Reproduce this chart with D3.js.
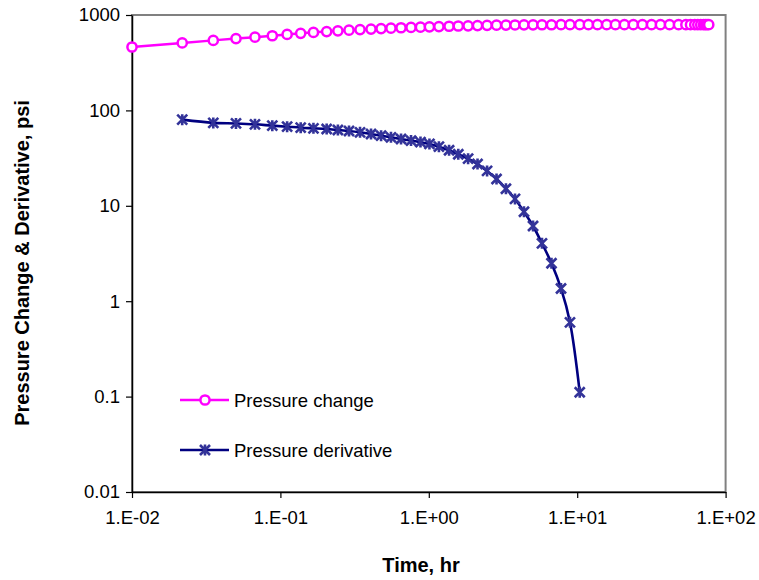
<!DOCTYPE html>
<html>
<head>
<meta charset="utf-8">
<script src="https://cdn.jsdelivr.net/npm/d3@7/dist/d3.min.js"></script>
<style>
  html, body { margin: 0; padding: 0; background: #fff; }
  svg { display: block; font-family: "Liberation Sans", Arial, sans-serif; }
</style>
</head>
<body>
<svg id="chart" width="759" height="580"></svg>
<script>
// ---- Data ----
const changeTime = [0.01, 0.0218, 0.0353, 0.0502, 0.0674, 0.0882, 0.111, 0.137, 0.167, 0.205,
  0.244, 0.290, 0.344, 0.408, 0.477, 0.556, 0.650, 0.759, 0.879, 1.01,
  1.17, 1.37, 1.58, 1.84, 2.13, 2.47, 2.86, 3.31, 3.81, 4.38,
  5.04, 5.79, 6.71, 7.78, 8.94, 10.4, 11.9, 13.7, 15.8, 18.1,
  20.8, 23.9, 27.5, 31.7, 36.4, 41.9, 48.2, 54, 58, 62,
  65, 68, 71, 73, 75, 77];
const changeValue = [462, 510, 542, 566, 586, 606, 626, 643, 657, 670,
  682, 693, 703, 712, 720, 728, 735, 741, 746, 751,
  757, 762, 767, 771, 775, 779, 782, 784, 786, 788,
  789, 790, 790, 791, 791, 791, 791, 791, 791, 792,
  792, 792, 792, 792, 792, 792, 792, 792, 792, 792,
  792, 792, 792, 792, 792, 792];
const derivTime = [0.0218, 0.0353, 0.0502, 0.0674, 0.0882, 0.111, 0.137, 0.167, 0.205,
  0.244, 0.290, 0.344, 0.408, 0.477, 0.556, 0.650, 0.759, 0.879, 1.01,
  1.17, 1.37, 1.58, 1.84, 2.13, 2.47, 2.86, 3.31, 3.81, 4.38,
  5.04, 5.79, 6.71, 7.78, 8.94, 10.4];
const derivValue = [80, 74, 73, 71.5, 69.2, 67.5, 65.9, 64.9, 63.8,
  62.3, 60.8, 58.9, 56.6, 54.3, 52.2, 50.1, 48.3, 46.5, 44.5,
  41.7, 38.2, 34.7, 31.2, 27.4, 23.2, 19.1, 15.1, 11.8, 8.67,
  6.14, 4.04, 2.5, 1.36, 0.60, 0.111];
const xTickValues = [0.01, 0.1, 1, 10, 100];
const xTickLabels = ["1.E-02", "1.E-01", "1.E+00", "1.E+01", "1.E+02"];
const yTickValues = [0.01, 0.1, 1, 10, 100, 1000];
const yTickLabels = ["0.01", "0.1", "1", "10", "100", "1000"];
const seriesNames = ["Pressure change", "Pressure derivative"];
const xTitle = "Time, hr";
const yTitle = "Pressure Change & Derivative, psi";

// ---- Layout ----
const svg = d3.select("#chart");
const plotL = 132, plotR = 725.6, plotT = 15, plotB = 492;
const x = d3.scaleLog().domain([0.01, 100]).range([plotL, plotR]);
const y = d3.scaleLog().domain([0.01, 1000]).range([plotB, plotT]);

const pink = "#FF00FF", navy = "#000080", starCol = "#333399";

// plot border
svg.append("rect").attr("x", plotL).attr("y", plotT)
  .attr("width", plotR - plotL).attr("height", plotB - plotT)
  .attr("fill", "none").attr("stroke", "#808080").attr("stroke-width", 2);

// axes
const xAxis = d3.axisBottom(x).tickValues(xTickValues)
  .tickFormat((d, i) => xTickLabels[i]).tickSize(6).tickSizeOuter(0).tickPadding(13);
const yAxis = d3.axisLeft(y).tickValues(yTickValues)
  .tickFormat((d, i) => yTickLabels[i]).tickSize(6).tickSizeOuter(0).tickPadding(6);

const gx = svg.append("g").attr("transform", `translate(0,${plotB})`).call(xAxis);
const gy = svg.append("g").attr("transform", `translate(${plotL},0)`).call(yAxis);
[gx, gy].forEach(g => {
  g.select(".domain").attr("stroke", "#000").attr("stroke-width", 1.5);
  g.selectAll(".tick line").attr("stroke", "#000").attr("stroke-width", 1.2);
  g.selectAll(".tick text").attr("fill", "#000").attr("font-size", 18.5)
    .attr("font-family", "Liberation Sans, Arial, sans-serif");
});

// axis titles
svg.append("text").attr("x", 421).attr("y", 572).attr("text-anchor", "middle")
  .attr("font-size", 20).attr("font-weight", "bold").text(xTitle);
svg.append("text").attr("transform", `translate(29,${263}) rotate(-90)`)
  .attr("text-anchor", "middle").attr("font-size", 20).attr("font-weight", "bold").text(yTitle);

// series
const changeData = changeTime.map((t, i) => [t, changeValue[i]]);
const derivData = derivTime.map((t, i) => [t, derivValue[i]]);
const line = d3.line().x(d => x(d[0])).y(d => y(d[1])).curve(d3.curveCatmullRom.alpha(0.5));

svg.append("path").datum(changeData).attr("d", line)
  .attr("fill", "none").attr("stroke", pink).attr("stroke-width", 2.5);
svg.append("path").datum(derivData).attr("d", line)
  .attr("fill", "none").attr("stroke", navy).attr("stroke-width", 2.6);

function drawCircle(g, cx, cy) {
  g.append("circle").attr("cx", cx).attr("cy", cy).attr("r", 4.6)
    .attr("fill", "#fff").attr("stroke", pink).attr("stroke-width", 2.5);
}
function drawStar(g, cx, cy) {
  const s = 5;
  g.append("path")
    .attr("d", `M${cx - s},${cy - s}L${cx + s},${cy + s}M${cx - s},${cy + s}L${cx + s},${cy - s}M${cx},${cy - s - 0.5}L${cx},${cy + s + 0.5}`)
    .attr("stroke", starCol).attr("stroke-width", 2.6).attr("fill", "none");
}

const gc = svg.append("g");
changeData.forEach(d => drawCircle(gc, x(d[0]), y(d[1])));
const gd = svg.append("g");
derivData.forEach(d => drawStar(gd, x(d[0]), y(d[1])));

// legend
const legend = svg.append("g");
const legendRows = [{name: seriesNames[0], color: pink, mark: drawCircle, yy: 400},
                    {name: seriesNames[1], color: navy, mark: drawStar, yy: 450}];
legendRows.forEach(r => {
  legend.append("line").attr("x1", 180).attr("x2", 229).attr("y1", r.yy).attr("y2", r.yy)
    .attr("stroke", r.color).attr("stroke-width", 2.5);
  r.mark(legend, 205, r.yy);
  legend.append("text").attr("x", 234).attr("y", r.yy + 6.5).attr("font-size", 18.5)
    .attr("fill", "#000").text(r.name);
});
</script>
</body>
</html>
